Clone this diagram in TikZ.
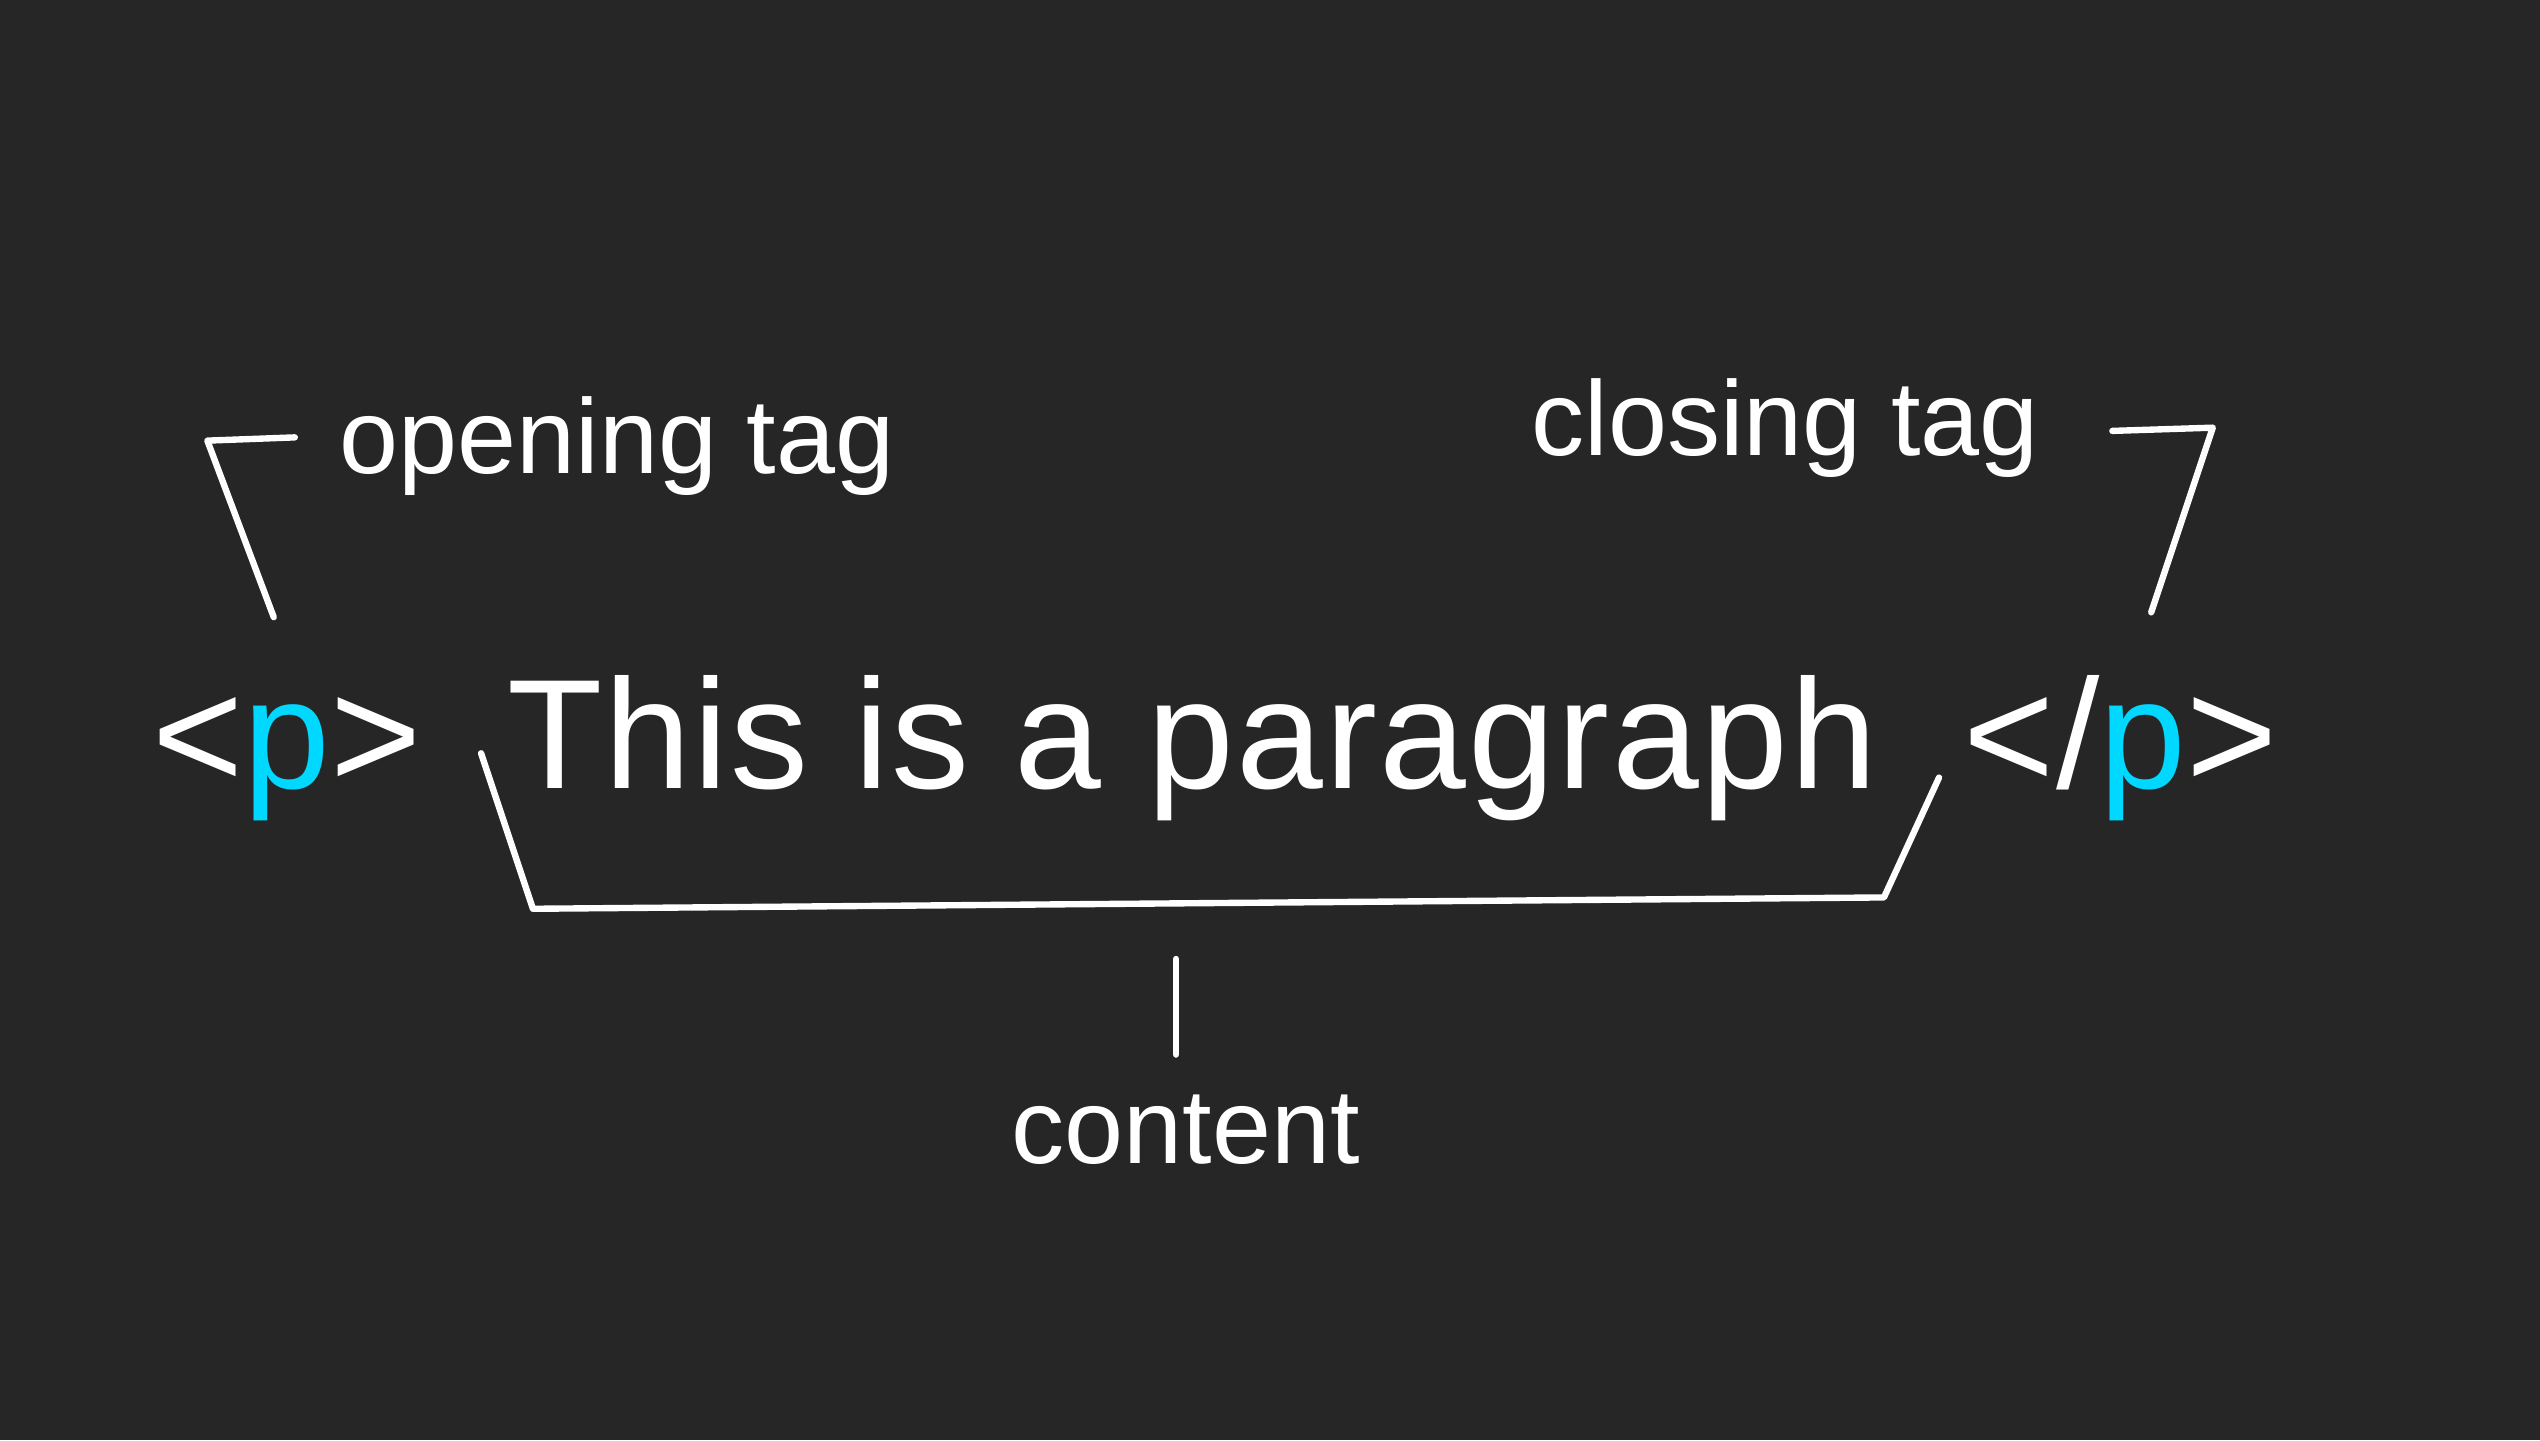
\documentclass[tikz,border=0pt]{standalone}
\usepackage{fontspec}
\setmainfont{Liberation Sans}
\usepackage{tikz}
\usetikzlibrary{positioning}
\definecolor{bgdark}{RGB}{38,38,38}
\definecolor{tagcyan}{RGB}{0,216,255}

\begin{document}
\begin{tikzpicture}[x=0.25mm, y=-0.25mm]
    \tikzset
    {
        base/.style = {inner sep = 0pt,
                       anchor = base,
                       text = white},
        codetext/.style = {base,
                           font = \fontsize{68.5pt}{80pt}\selectfont\addfontfeatures{LetterSpace=1.5}},
        label/.style = {base,
                        font = \fontsize{46.6pt}{56pt}\selectfont},
        bracket/.style = {draw = white,
                          line width = 2.8pt,
                          line cap = round,
                          line join = round}
    };

    % Background
    \fill[bgdark] (0,0) rectangle (1568,889);

    % Row #
    % 1
    \node[label] (open label)  at (381,292)  {opening tag};
    \node[label] (close label) at (1102,281) {closing tag};
    % 2
    \node[codetext] (open tag)  at (177,487)  {<\textcolor{tagcyan}{p}>};
    \node[codetext] (content)   at (736,487)  {This is a paragraph};
    \node[codetext] (close tag) at (1309,487) {</\textcolor{tagcyan}{p}>};
    % 3
    \node[label] (content label) at (732,718) {content};

    % Bracket points
    \coordinate (open a)  at (182,270);
    \coordinate (open b)  at (128,272);
    \coordinate (open c)  at (169,381);
    \coordinate (close a) at (1304,266);
    \coordinate (close b) at (1366,264);
    \coordinate (close c) at (1328,378);
    \coordinate (cont a)  at (297,465);
    \coordinate (cont b)  at (329,561);
    \coordinate (cont c)  at (1163,554);
    \coordinate (cont d)  at (1197,480);
    \coordinate (stem a)  at (726,592);
    \coordinate (stem b)  at (726,651);

    % Brackets
    \draw[bracket] (open a) -- (open b) -- (open c);
    \draw[bracket] (close a) -- (close b) -- (close c);
    \draw[bracket] (cont a) -- (cont b) -- (cont c) -- (cont d);
    \draw[bracket] (stem a) -- (stem b);

\end{tikzpicture}
\end{document}
